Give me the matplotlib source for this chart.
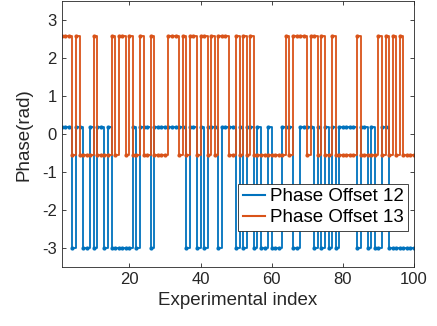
import numpy as np
import matplotlib
matplotlib.use("Agg")
import matplotlib.pyplot as plt

plt.rcParams['font.family'] = ['Liberation Sans', 'DejaVu Sans']
plt.rcParams['axes.unicode_minus'] = False

### DATA ###
experiment_index = np.arange(1, 101)

# levels (rad)
offset12_levels = (0.2, -3.0)    # (high, low)
offset13_levels = (2.6, -0.55)

# experiments where "Phase Offset 12" sits on its low level
offset12_low = [4, 7, 8, 10, 13, 15, 16, 17, 18, 19, 20, 22, 26, 36, 39, 41,
                45, 50, 52, 55, 57, 58, 60, 61, 62, 66, 67, 72, 74, 76, 78,
                84, 87, 89, 90, 93, 94, 95, 96, 97, 98, 99, 100]

# experiments where "Phase Offset 13" sits on its high level
offset13_high = [1, 2, 3, 5, 10, 15, 17, 18, 20, 23, 26, 31, 32, 33, 35, 37,
                 38, 40, 41, 43, 45, 46, 47, 50, 52, 54, 64, 66, 67, 68, 69,
                 71, 72, 74, 77, 84, 90, 92, 94, 96]
##############

phase12 = np.where(np.isin(experiment_index, offset12_low),
                   offset12_levels[1], offset12_levels[0])
phase13 = np.where(np.isin(experiment_index, offset13_high),
                   offset13_levels[0], offset13_levels[1])

blue = '#0072BD'
orange = '#D95319'

fig = plt.figure(figsize=(4.37, 3.26), dpi=100)
ax = fig.add_axes([0.1413, 0.181, 0.806, 0.8144])

ax.step(experiment_index, phase12, where='post', color=blue, lw=1.3,
        marker='.', ms=4, label='Phase Offset 12')
ax.step(experiment_index, phase13, where='post', color=orange, lw=1.3,
        marker='.', ms=4, label='Phase Offset 13')

ax.set_xlim(1, 100)
ax.set_ylim(-3.5, 3.5)
ax.set_xticks([20, 40, 60, 80, 100])
ax.set_yticks([-3, -2, -1, 0, 1, 2, 3])

ax.tick_params(direction='in', top=True, right=True, length=3,
               labelsize=12, colors='#262626', width=0.6)
for s in ax.spines.values():
    s.set_color('#262626')
    s.set_linewidth(0.6)

ax.set_xlabel('Experimental index', fontsize=13.5, color='#262626', labelpad=4)
ax.set_ylabel('Phase(rad)', fontsize=13.5, color='#262626', labelpad=7)

leg = ax.legend(loc='lower right', bbox_to_anchor=(0.984, 0.1356),
                borderaxespad=0, fontsize=13.5, fancybox=False,
                framealpha=1, edgecolor='#262626', handlelength=1.2,
                handletextpad=0.25, borderpad=0.25, labelspacing=0.2)
leg.get_frame().set_linewidth(0.6)
for line in leg.get_lines():
    line.set_marker('')
    line.set_linewidth(1.5)

fig.savefig('out.png', dpi=100)
